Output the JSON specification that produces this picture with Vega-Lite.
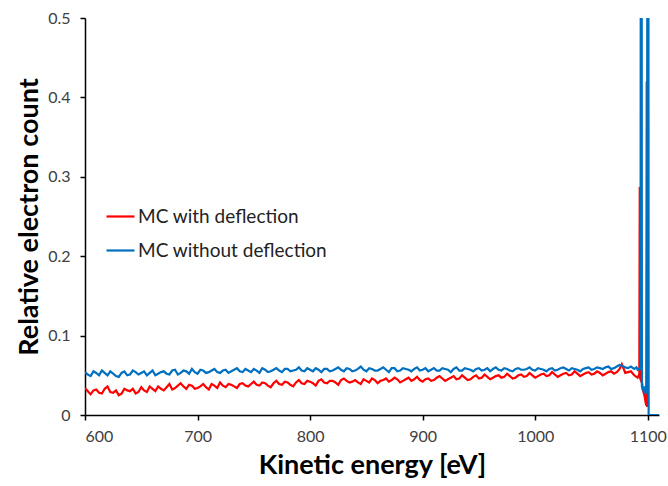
{
  "$schema": "https://vega.github.io/schema/vega-lite/v6.json",
  "width": 574,
  "height": 397,
  "autosize": {"type": "none"},
  "padding": {"left": 85, "top": 18, "right": 9, "bottom": 71},
  "background": "white",
  "config": {"view": {"stroke": null}, "font": "Lato"},
  "data": {"values": [
    {"e":600,"b":0.054,"r":0.034},{"e":602.5,"b":0.051,"r":0.030},{"e":605,"b":0.049,"r":0.026},{"e":607.5,"b":0.055,"r":0.031},{"e":610,"b":0.053,"r":0.032},{"e":612.5,"b":0.050,"r":0.028},{"e":615,"b":0.056,"r":0.027},{"e":617.5,"b":0.053,"r":0.033},{"e":620,"b":0.050,"r":0.036},{"e":622.5,"b":0.055,"r":0.029},
    {"e":625,"b":0.052,"r":0.028},{"e":627.5,"b":0.049,"r":0.031},{"e":630,"b":0.048,"r":0.025},{"e":632.5,"b":0.053,"r":0.027},{"e":635,"b":0.055,"r":0.033},{"e":637.5,"b":0.050,"r":0.031},{"e":640,"b":0.051,"r":0.030},{"e":642.5,"b":0.056,"r":0.033},{"e":645,"b":0.054,"r":0.027},{"e":647.5,"b":0.051,"r":0.029},
    {"e":650,"b":0.053,"r":0.035},{"e":652.5,"b":0.055,"r":0.031},{"e":655,"b":0.050,"r":0.029},{"e":657.5,"b":0.053,"r":0.036},{"e":660,"b":0.056,"r":0.033},{"e":662.5,"b":0.050,"r":0.030},{"e":665,"b":0.052,"r":0.036},{"e":667.5,"b":0.054,"r":0.033},{"e":670,"b":0.055,"r":0.031},{"e":672.5,"b":0.052,"r":0.035},
    {"e":675,"b":0.051,"r":0.039},{"e":677.5,"b":0.056,"r":0.032},{"e":680,"b":0.057,"r":0.034},{"e":682.5,"b":0.051,"r":0.037},{"e":685,"b":0.053,"r":0.040},{"e":687.5,"b":0.056,"r":0.036},{"e":690,"b":0.055,"r":0.033},{"e":692.5,"b":0.052,"r":0.038},{"e":695,"b":0.058,"r":0.037},{"e":697.5,"b":0.054,"r":0.033},
    {"e":700,"b":0.052,"r":0.034},{"e":702.5,"b":0.057,"r":0.036},{"e":705,"b":0.056,"r":0.039},{"e":707.5,"b":0.053,"r":0.035},{"e":710,"b":0.054,"r":0.032},{"e":712.5,"b":0.056,"r":0.039},{"e":715,"b":0.058,"r":0.037},{"e":717.5,"b":0.054,"r":0.034},{"e":720,"b":0.053,"r":0.041},{"e":722.5,"b":0.056,"r":0.037},
    {"e":725,"b":0.057,"r":0.035},{"e":727.5,"b":0.053,"r":0.039},{"e":730,"b":0.055,"r":0.038},{"e":732.5,"b":0.057,"r":0.036},{"e":735,"b":0.059,"r":0.034},{"e":737.5,"b":0.055,"r":0.039},{"e":740,"b":0.054,"r":0.040},{"e":742.5,"b":0.058,"r":0.037},{"e":745,"b":0.056,"r":0.036},{"e":747.5,"b":0.054,"r":0.039},
    {"e":750,"b":0.058,"r":0.042},{"e":752.5,"b":0.056,"r":0.038},{"e":755,"b":0.053,"r":0.037},{"e":757.5,"b":0.059,"r":0.041},{"e":760,"b":0.057,"r":0.040},{"e":762.5,"b":0.054,"r":0.037},{"e":765,"b":0.055,"r":0.035},{"e":767.5,"b":0.057,"r":0.040},{"e":770,"b":0.059,"r":0.043},{"e":772.5,"b":0.056,"r":0.039},
    {"e":775,"b":0.054,"r":0.038},{"e":777.5,"b":0.058,"r":0.042},{"e":780,"b":0.058,"r":0.041},{"e":782.5,"b":0.055,"r":0.038},{"e":785,"b":0.056,"r":0.036},{"e":787.5,"b":0.057,"r":0.041},{"e":790,"b":0.060,"r":0.044},{"e":792.5,"b":0.056,"r":0.040},{"e":795,"b":0.055,"r":0.039},{"e":797.5,"b":0.059,"r":0.043},
    {"e":800,"b":0.057,"r":0.042},{"e":802.5,"b":0.055,"r":0.040},{"e":805,"b":0.059,"r":0.037},{"e":807.5,"b":0.057,"r":0.043},{"e":810,"b":0.054,"r":0.045},{"e":812.5,"b":0.058,"r":0.041},{"e":815,"b":0.058,"r":0.040},{"e":817.5,"b":0.055,"r":0.043},{"e":820,"b":0.056,"r":0.043},{"e":822.5,"b":0.058,"r":0.041},
    {"e":825,"b":0.060,"r":0.038},{"e":827.5,"b":0.057,"r":0.044},{"e":830,"b":0.055,"r":0.046},{"e":832.5,"b":0.059,"r":0.043},{"e":835,"b":0.058,"r":0.041},{"e":837.5,"b":0.055,"r":0.042},{"e":840,"b":0.056,"r":0.044},{"e":842.5,"b":0.058,"r":0.041},{"e":845,"b":0.061,"r":0.039},{"e":847.5,"b":0.057,"r":0.045},
    {"e":850,"b":0.055,"r":0.043},{"e":852.5,"b":0.059,"r":0.041},{"e":855,"b":0.058,"r":0.046},{"e":857.5,"b":0.056,"r":0.044},{"e":860,"b":0.056,"r":0.040},{"e":862.5,"b":0.058,"r":0.043},{"e":865,"b":0.060,"r":0.044},{"e":867.5,"b":0.057,"r":0.046},{"e":870,"b":0.054,"r":0.042},{"e":872.5,"b":0.059,"r":0.044},
    {"e":875,"b":0.059,"r":0.047},{"e":877.5,"b":0.055,"r":0.045},{"e":880,"b":0.056,"r":0.041},{"e":882.5,"b":0.059,"r":0.043},{"e":885,"b":0.058,"r":0.045},{"e":887.5,"b":0.057,"r":0.047},{"e":890,"b":0.055,"r":0.043},{"e":892.5,"b":0.058,"r":0.045},{"e":895,"b":0.060,"r":0.048},{"e":897.5,"b":0.056,"r":0.044},
    {"e":900,"b":0.057,"r":0.042},{"e":902.5,"b":0.059,"r":0.045},{"e":905,"b":0.055,"r":0.046},{"e":907.5,"b":0.057,"r":0.043},{"e":910,"b":0.059,"r":0.044},{"e":912.5,"b":0.056,"r":0.047},{"e":915,"b":0.056,"r":0.049},{"e":917.5,"b":0.059,"r":0.046},{"e":920,"b":0.058,"r":0.043},{"e":922.5,"b":0.057,"r":0.045},
    {"e":925,"b":0.054,"r":0.047},{"e":927.5,"b":0.058,"r":0.049},{"e":930,"b":0.060,"r":0.045},{"e":932.5,"b":0.056,"r":0.046},{"e":935,"b":0.056,"r":0.050},{"e":937.5,"b":0.059,"r":0.047},{"e":940,"b":0.058,"r":0.044},{"e":942.5,"b":0.057,"r":0.045},{"e":945,"b":0.055,"r":0.048},{"e":947.5,"b":0.058,"r":0.050},
    {"e":950,"b":0.059,"r":0.046},{"e":952.5,"b":0.056,"r":0.047},{"e":955,"b":0.057,"r":0.051},{"e":957.5,"b":0.059,"r":0.048},{"e":960,"b":0.055,"r":0.045},{"e":962.5,"b":0.058,"r":0.047},{"e":965,"b":0.060,"r":0.049},{"e":967.5,"b":0.057,"r":0.050},{"e":970,"b":0.056,"r":0.047},{"e":972.5,"b":0.059,"r":0.048},
    {"e":975,"b":0.058,"r":0.052},{"e":977.5,"b":0.056,"r":0.049},{"e":980,"b":0.055,"r":0.046},{"e":982.5,"b":0.058,"r":0.047},{"e":985,"b":0.059,"r":0.050},{"e":987.5,"b":0.057,"r":0.051},{"e":990,"b":0.057,"r":0.048},{"e":992.5,"b":0.058,"r":0.049},{"e":995,"b":0.060,"r":0.053},{"e":997.5,"b":0.057,"r":0.050},
    {"e":1000,"b":0.056,"r":0.047},{"e":1002.5,"b":0.059,"r":0.049},{"e":1005,"b":0.058,"r":0.051},{"e":1007.5,"b":0.057,"r":0.052},{"e":1010,"b":0.055,"r":0.049},{"e":1012.5,"b":0.058,"r":0.050},{"e":1015,"b":0.059,"r":0.054},{"e":1017.5,"b":0.056,"r":0.051},{"e":1020,"b":0.057,"r":0.048},{"e":1022.5,"b":0.059,"r":0.050},
    {"e":1025,"b":0.060,"r":0.052},{"e":1027.5,"b":0.058,"r":0.053},{"e":1030,"b":0.056,"r":0.050},{"e":1032.5,"b":0.059,"r":0.051},{"e":1035,"b":0.058,"r":0.055},{"e":1037.5,"b":0.057,"r":0.052},{"e":1040,"b":0.055,"r":0.049},{"e":1042.5,"b":0.058,"r":0.051},{"e":1045,"b":0.059,"r":0.053},{"e":1047.5,"b":0.060,"r":0.054},
    {"e":1050,"b":0.057,"r":0.051},{"e":1052.5,"b":0.058,"r":0.052},{"e":1055,"b":0.060,"r":0.055},{"e":1057.5,"b":0.059,"r":0.053},{"e":1060,"b":0.058,"r":0.050},{"e":1062.5,"b":0.060,"r":0.052},{"e":1065,"b":0.061,"r":0.054},{"e":1067.5,"b":0.058,"r":0.055},{"e":1070,"b":0.059,"r":0.052},{"e":1072.5,"b":0.061,"r":0.054},
    {"e":1075,"b":0.063,"r":0.058},{"e":1077,"b":0.062,"r":0.064},{"e":1080,"b":0.060,"r":0.053},{"e":1082.5,"b":0.059,"r":0.054},{"e":1085,"b":0.061,"r":0.055},{"e":1088,"b":0.058,"r":0.050},{"e":1090,"b":0.060,"r":0.048},{"e":1091,"b":0.057,"r":0.047},
    {"e":1092.0,"b":0.058,"r":0.050},{"e":1092.5,"b":null,"r":0.048},{"e":1092.9,"b":null,"r":0.287},{"e":1093.3,"b":null,"r":0.046},{"e":1093.6,"b":0.058,"r":null},{"e":1093.9,"b":0.9,"r":null},{"e":1094.5,"b":0.9,"r":null},{"e":1094.8,"b":0.036,"r":null},
    {"e":1095,"b":null,"r":0.040},{"e":1095.5,"b":0.032,"r":null},{"e":1096,"b":null,"r":0.030},{"e":1096.5,"b":0.030,"r":null},{"e":1097,"b":null,"r":0.025},{"e":1097.5,"b":0.036,"r":0.021},{"e":1098,"b":null,"r":0.017},{"e":1098.3,"b":0.028,"r":null},
    {"e":1098.7,"b":null,"r":0.012},{"e":1099.1,"b":null,"r":0.42},{"e":1099.3,"b":0.030,"r":null},{"e":1099.5,"b":null,"r":0.01},{"e":1099.8,"b":0.9,"r":null},{"e":1100.5,"b":0.9,"r":null},{"e":1100.8,"b":0.0,"r":null},{"e":1110,"b":0.0,"r":null}
  ]},
  "transform": [
    {"fold": ["r", "b"], "as": ["series", "v"]},
    {"filter": "datum.v != null"}
  ],
  "mark": {"type": "line", "strokeWidth": 2.2, "clip": true, "interpolate": "linear"},
  "encoding": {
    "x": {
      "field": "e", "type": "quantitative",
      "scale": {"domain": [600, 1110], "nice": false, "zero": false},
      "axis": {
        "title": "Kinetic energy [eV]",
        "values": [600, 700, 800, 900, 1000, 1100],
        "format": "d",
        "grid": false,
        "domainColor": "#000000",
        "domainWidth": 1.5,
        "tickColor": "#000000",
        "tickWidth": 1.5,
        "tickSize": 5,
        "labelFontSize": 16,
        "labelColor": "#404040",
        "labelPadding": 8,
        "titleFontSize": 27,
        "titleFontWeight": "bold",
        "titleColor": "#000000",
        "titlePadding": 8
      }
    },
    "y": {
      "field": "v", "type": "quantitative",
      "scale": {"domain": [0, 0.5], "nice": false},
      "axis": {
        "title": "Relative electron count",
        "values": [0, 0.1, 0.2, 0.3, 0.4, 0.5],
        "format": ".1~f",
        "grid": false,
        "domainColor": "#000000",
        "domainWidth": 1.5,
        "tickColor": "#000000",
        "tickWidth": 1.5,
        "tickSize": 5,
        "labelFontSize": 16,
        "labelColor": "#404040",
        "labelPadding": 10,
        "titleFontSize": 27,
        "titleFontWeight": "bold",
        "titleColor": "#000000",
        "titlePadding": 4
      }
    },
    "color": {
      "field": "series", "type": "nominal",
      "scale": {"domain": ["r", "b"], "range": ["#FF0000", "#0070C0"]},
      "legend": {
        "title": null,
        "orient": "none",
        "legendX": 20,
        "legendY": 183,
        "padding": 0,
        "symbolType": "stroke",
        "symbolSize": 784,
        "symbolStrokeWidth": 2.2,
        "labelFontSize": 19,
        "labelLimit": 400,
        "labelColor": "#222222",
        "labelOffset": 2,
        "rowPadding": 8,
        "labelExpr": "datum.label == 'r' ? 'MC with deflection' : 'MC without deflection'"
      }
    }
  }
}
